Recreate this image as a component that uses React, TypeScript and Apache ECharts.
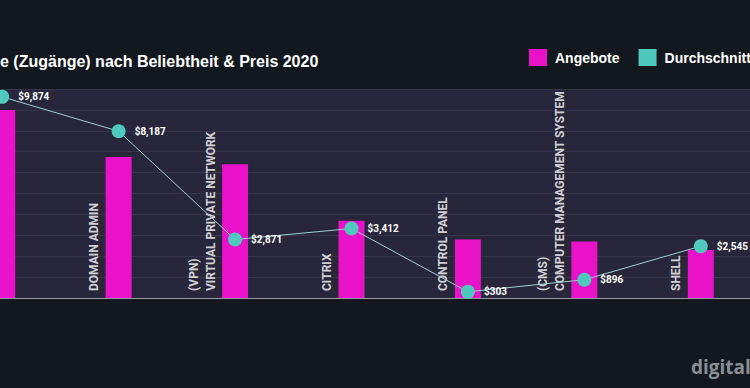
import React, { useEffect, useRef } from "react";
import * as echarts from "echarts";

const categories = [
  "",
  "DOMAIN ADMIN",
  "(VPN)\nVIRTUAL PRIVATE NETWORK",
  "CITRIX",
  "CONTROL PANEL",
  "(CMS)\nCOMPUTER MANAGEMENT SYSTEM",
  "SHELL",
];
const offers = [90, 67.5, 64, 37, 28, 27, 23];
const avgPrice = [9874, 8187, 2871, 3412, 303, 896, 2545];
const offerTicks = { min: 0, max: 100, interval: 10 };
const priceAxisMax = 10260;

const TITLE = "e (Zugänge) nach Beliebtheit & Preis 2020";
const MAGENTA = "#e912c9";
const TEAL = "#4fc8be";
const SHIFT = 60; // the chart canvas starts left of the visible window (cropped view)

export default function App() {
  const ref = useRef<HTMLDivElement>(null);
  useEffect(() => {
    document.body.style.margin = "0";
    document.body.style.overflow = "hidden";
    document.documentElement.style.overflow = "hidden";
    document.body.style.background = "#13181f";
    const chart = echarts.init(ref.current!, undefined, { renderer: "svg" });
    chart.setOption({
      animation: false,
      backgroundColor: "#13181f",
      title: {
        text: TITLE,
        left: SHIFT,
        top: 53,
        padding: 0,
        textStyle: {
          color: "#ffffff",
          fontSize: 16,
          fontWeight: "bold",
          fontFamily: "Liberation Sans",
        },
      },
      legend: {
        left: SHIFT + 529,
        top: 49,
        padding: 0,
        itemWidth: 18,
        itemHeight: 17,
        itemGap: 19,
        icon: "rect",
        textStyle: {
          color: "#ffffff",
          fontSize: 14,
          fontWeight: "bold",
          fontFamily: "Liberation Sans",
          padding: [0, 0, 0, 3],
        },
        data: [
          { name: "Angebote", itemStyle: { color: MAGENTA } },
          { name: "Durchschnittspreis", itemStyle: { color: TEAL } },
        ],
      },
      graphic: [
        {
          type: "text",
          left: SHIFT + 691,
          top: 357,
          style: {
            text: "digital",
            fill: "#8a8f96",
            fontSize: 19,
            fontWeight: "bold",
            fontFamily: "Open Sans",
          },
        },
      ],
      grid: {
        left: SHIFT - 56,
        width: 815,
        top: 89,
        bottom: 90,
        show: true,
        backgroundColor: "#28263a",
        borderWidth: 0,
      },
      xAxis: {
        type: "category",
        data: categories,
        axisLine: { show: true, lineStyle: { color: "#9a9aa6", width: 1 } },
        axisTick: { show: false },
        axisLabel: { show: false },
        splitLine: { show: false },
      },
      yAxis: [
        {
          type: "value",
          min: offerTicks.min,
          max: offerTicks.max,
          interval: offerTicks.interval,
          axisLabel: { show: false },
          axisLine: { show: false },
          axisTick: { show: false },
          splitLine: { show: true, lineStyle: { color: "#37354b", width: 1 } },
        },
        {
          type: "value",
          min: 0,
          max: priceAxisMax,
          show: false,
          splitLine: { show: false },
        },
      ],
      series: [
        {
          name: "Angebote",
          type: "bar",
          yAxisIndex: 0,
          data: offers,
          barWidth: 26,
          itemStyle: { color: MAGENTA },
        },
        {
          name: "Durchschnittspreis",
          type: "line",
          yAxisIndex: 1,
          data: avgPrice,
          symbol: "circle",
          symbolSize: 14,
          itemStyle: { color: TEAL },
          lineStyle: { color: "#9fd0d0", width: 1 },
          z: 5,
          label: {
            show: true,
            position: "right",
            distance: 9,
            color: "#ffffff",
            fontSize: 10,
            fontWeight: "bold",
            fontFamily: "Roboto",
            formatter: (p: any) => "$" + Number(p.value).toLocaleString("en-US"),
          },
        },
        {
          name: "labels",
          type: "scatter",
          yAxisIndex: 0,
          data: categories.map(() => 0),
          symbolSize: 0,
          silent: true,
          clip: false,
          z: 4,
          label: {
            show: true,
            position: "inside",
            rotate: 90,
            align: "left",
            verticalAlign: "bottom",
            offset: [7, -16],
            color: "#ffffff",
            fontSize: 12,
            fontWeight: "bold",
            fontFamily: "Roboto",
            lineHeight: 17,
            formatter: (p: any) => categories[p.dataIndex],
          },
        },
      ],
    });
    return () => chart.dispose();
  }, []);
  return (
    <div
      ref={ref}
      style={{ position: "fixed", left: -SHIFT, top: 0, width: 900, height: 388 }}
    />
  );
}
